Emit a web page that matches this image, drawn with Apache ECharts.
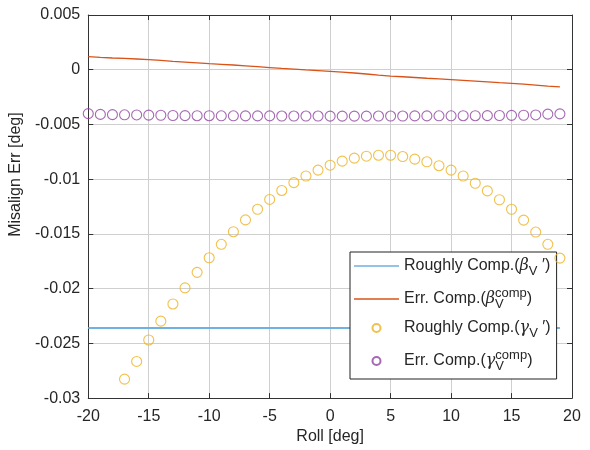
<!DOCTYPE html>
<html><head><meta charset="utf-8">
<script src="https://cdn.jsdelivr.net/npm/echarts@6/dist/echarts.min.js"></script>
<style>html,body{margin:0;padding:0;background:#fff}#c{width:590px;height:450px}</style>
</head><body><div id="c"></div>
<script>
// ---- data ----
const rollX = [-20,-19,-18,-17,-16,-15,-14,-13,-12,-11,-10,-9,-8,-7,-6,-5,-4,-3,-2,-1,0,1,2,3,4,5,6,7,8,9,10,11,12,13,14,15,16,17,18,19];
const roughBeta = [-0.0236,-0.0236,-0.0236,-0.0236,-0.0236,-0.0236,-0.0236,-0.0236,-0.0236,-0.0236,-0.0236,-0.0236,-0.0236,-0.0236,-0.0236,-0.0236,-0.0236,-0.0236,-0.0236,-0.0236,-0.0236,-0.0236,-0.0236,-0.0236,-0.0236,-0.0236,-0.0236,-0.0236,-0.0236,-0.0236,-0.0236,-0.0236,-0.0236,-0.0236,-0.0236,-0.0236,-0.0236,-0.0236,-0.0236,-0.0236];
const errBeta = [0.00120,0.00113,0.00107,0.00103,0.00098,0.00093,0.00085,0.00077,0.00070,0.00063,0.00055,0.00049,0.00043,0.00036,0.00028,0.00020,0.00012,0.00005,-0.00002,-0.00008,-0.00015,-0.00022,-0.00030,-0.00039,-0.00049,-0.00058,-0.00064,-0.00071,-0.00078,-0.00084,-0.00090,-0.00097,-0.00104,-0.00111,-0.00118,-0.00124,-0.00131,-0.00140,-0.00149,-0.00157];
const errGamma = [-0.00401,-0.00408,-0.00410,-0.00412,-0.00413,-0.00415,-0.00416,-0.00418,-0.00419,-0.00420,-0.00420,-0.00421,-0.00421,-0.00422,-0.00422,-0.00422,-0.00423,-0.00423,-0.00423,-0.00423,-0.00424,-0.00424,-0.00424,-0.00424,-0.00423,-0.00423,-0.00423,-0.00422,-0.00422,-0.00421,-0.00421,-0.00420,-0.00420,-0.00419,-0.00418,-0.00417,-0.00416,-0.00413,-0.00406,-0.00403];
const roughGammaX = [-17,-16,-15,-14,-13,-12,-11,-10,-9,-8,-7,-6,-5,-4,-3,-2,-1,0,1,2,3,4,5,6,7,8,9,10,11,12,13,14,15,16,17,18,19];
const roughGamma = [-0.02827,-0.02665,-0.02469,-0.02297,-0.0214,-0.01993,-0.01851,-0.01718,-0.01595,-0.0148,-0.01372,-0.01275,-0.01185,-0.01103,-0.01031,-0.00971,-0.00917,-0.00872,-0.00835,-0.00808,-0.0079,-0.00781,-0.00781,-0.00793,-0.00817,-0.00841,-0.00877,-0.00917,-0.00971,-0.01037,-0.01107,-0.01188,-0.01275,-0.01374,-0.01483,-0.01595,-0.01721];
const xTicks = {min:-20, max:20, interval:5};
const yTicks = {min:-0.03, max:0.005, interval:0.005};
const names = ['rb','eb','rg','eg'];

// ---- chart ----
const FONT = 'Liberation Sans, Arial, sans-serif';
const TXT = '#262626';
const AX = '#333333';
const GRID = '#cfcfcf';
const pair = (xs, ys) => xs.map((x,i)=>[x, ys[i]]);
const chart = echarts.init(document.getElementById('c'), null, {renderer:'canvas'});
const baseX = {type:'value', min:xTicks.min, max:xTicks.max, interval:xTicks.interval};
const baseY = {type:'value', min:yTicks.min, max:yTicks.max, interval:yTicks.interval};
const rich = {
  t:{fontSize:16, fontFamily:FONT, color:TXT, lineHeight:24, verticalAlign:'middle'},
  it:{fontSize:16, fontFamily:'DejaVu Serif, serif', fontStyle:'italic', color:TXT, lineHeight:24, verticalAlign:'middle'},
  sub:{fontSize:13, fontFamily:FONT, color:TXT, lineHeight:13, verticalAlign:'bottom'},
  sub0:{fontSize:13, fontFamily:FONT, color:TXT, lineHeight:13, verticalAlign:'bottom', width:0.01},
  sup:{fontSize:13, fontFamily:FONT, color:TXT, lineHeight:13, verticalAlign:'top'}
};
const labels = {
  rb:'{t|Roughly Comp.(}{it|β}{sub|V}{t| ′)}',
  eb:'{t|Err. Comp.(}{it|β}{sub0|V}{sup|comp}{t|)}',
  rg:'{t|Roughly Comp.(}{it|γ}{sub|V}{t| ′)}',
  eg:'{t|Err. Comp.(}{it|γ}{sub0|V}{sup|comp}{t|)}'
};
const LINE_ICON = 'path://M0,0H45V1.6H0Z';
chart.setOption({
  animation:false,
  backgroundColor:'#fff',
  grid:{left:84, right:18, top:15, bottom:48},
  xAxis:[
    Object.assign({}, baseX, {
      position:'bottom', name:'Roll [deg]', nameLocation:'middle', nameGap:28,
      nameTextStyle:{fontSize:16, fontFamily:FONT, color:TXT},
      axisLine:{show:true, onZero:false, lineStyle:{color:AX, width:1}},
      axisTick:{show:true, inside:true, length:5, lineStyle:{color:AX}},
      axisLabel:{fontSize:16, fontFamily:FONT, color:TXT, margin:10},
      splitLine:{show:true, lineStyle:{color:GRID, width:1}}
    }),
    Object.assign({}, baseX, {
      position:'top',
      axisLine:{show:true, onZero:false, lineStyle:{color:AX, width:1}},
      axisTick:{show:true, inside:true, length:5, lineStyle:{color:AX}},
      axisLabel:{show:false}, splitLine:{show:false}
    })
  ],
  yAxis:[
    Object.assign({}, baseY, {
      position:'left', name:'Misalign Err [deg]', nameLocation:'middle', nameGap:52,
      nameTextStyle:{fontSize:16, fontFamily:FONT, color:TXT, padding:[0,0,0,64]},
      axisLine:{show:true, onZero:false, lineStyle:{color:AX, width:1}},
      axisTick:{show:true, inside:true, length:5, lineStyle:{color:AX}},
      axisLabel:{fontSize:16, fontFamily:FONT, color:TXT, margin:8,
        formatter:v => String(+v.toFixed(3))},
      splitLine:{show:true, lineStyle:{color:GRID, width:1}}
    }),
    Object.assign({}, baseY, {
      position:'right',
      axisLine:{show:true, onZero:false, lineStyle:{color:AX, width:1}},
      axisTick:{show:true, inside:true, length:5, lineStyle:{color:AX}},
      axisLabel:{show:false}, splitLine:{show:false}
    })
  ],
  legend:{
    orient:'vertical', left:350, top:252,
    data:[{name:'rb', icon:LINE_ICON},{name:'eb', icon:LINE_ICON},{name:'rg'},{name:'eg'}],
    backgroundColor:'#fff', borderColor:'#222', borderWidth:1,
    padding:[6,6,6,4], itemGap:9, itemWidth:45, itemHeight:8,
    formatter:n => labels[n],
    textStyle:{rich:rich, fontSize:16, fontFamily:FONT, color:TXT},
    selectedMode:false
  },
  series:[
    {name:'rb', type:'line', data:pair(rollX, roughBeta), symbol:'none', showSymbol:false,
     lineStyle:{color:'#6FB1E0', width:2}, itemStyle:{color:'#6FB1E0'}, z:2},
    {name:'eb', type:'line', data:pair(rollX, errBeta), symbol:'none', showSymbol:false,
     lineStyle:{color:'#D95319', width:1.3}, itemStyle:{color:'#D95319'}, z:3},
    {name:'rg', type:'scatter', data:pair(roughGammaX, roughGamma), symbol:'circle', symbolSize:10,
     itemStyle:{color:'rgba(0,0,0,0)', borderColor:'#EDB120', borderWidth:1.1}, z:4},
    {name:'eg', type:'scatter', data:pair(rollX, errGamma), symbol:'circle', symbolSize:10,
     itemStyle:{color:'rgba(0,0,0,0)', borderColor:'#8E44A0', borderWidth:1.1}, z:4}
  ]
});
</script></body></html>
